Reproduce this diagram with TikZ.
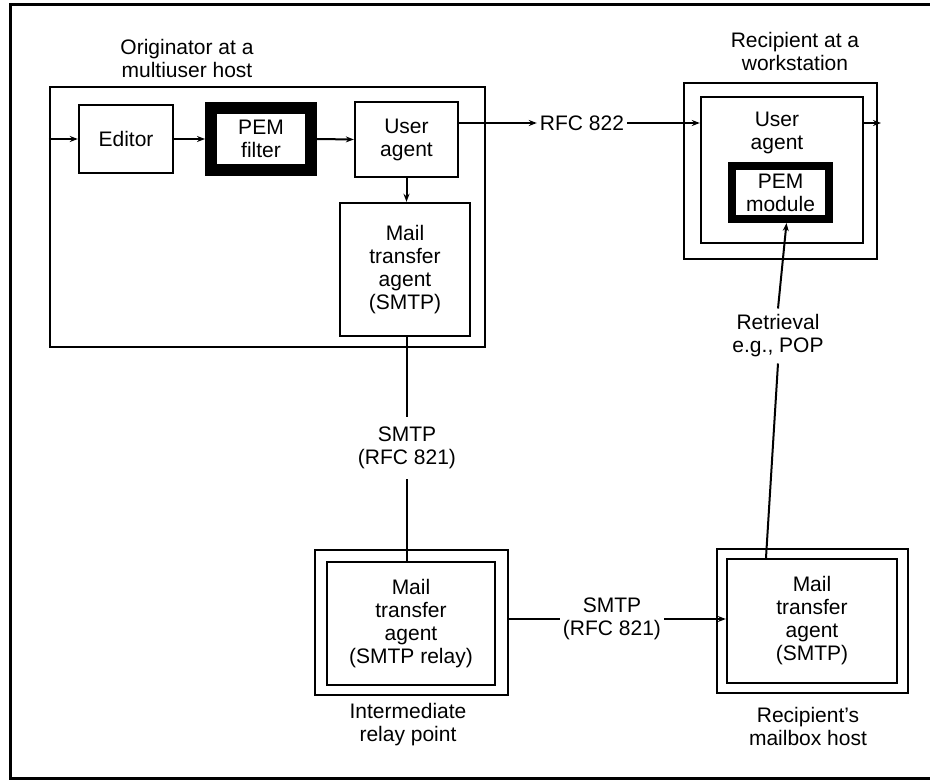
\documentclass[tikz,border=0pt]{standalone}
\usepackage{fontspec}
\setmainfont{Liberation Sans}
\usetikzlibrary{arrows.meta}
\begin{document}
\begin{tikzpicture}[x=1pt,y=-1pt,
  every node/.style={font=\fontsize{21}{23}\selectfont, align=center},
  box/.style={draw, line width=2.4pt, rectangle, inner sep=0pt},
  thickbox/.style={draw, rectangle, inner sep=0pt},
  lbl/.style={inner sep=3pt},
  conn/.style={line width=2pt},
  arr/.style={line width=2pt, -{Stealth[length=8pt,width=6pt]}}]
\useasboundingbox (0,0) rectangle (930,781);
\draw[line width=3pt] (940,5) -- (10,5) -- (10,778) -- (940,778);

% originator
\node[lbl] (t1) at (187,58) {Originator at a\\multiuser host};
\node[box, minimum width=435, minimum height=260] (orig) at (267.5,217) {};
\node[box, minimum width=94, minimum height=68] (ed) at (126,139) {Editor};
\node[thickbox, line width=12pt, minimum width=100, minimum height=62] (pf) at (261,139) {PEM\\filter};
\node[box, minimum width=103, minimum height=75] (ua) at (406.5,139.5) {User\\agent};
\node[box, minimum width=130, minimum height=133] (mta) at (405,269.5) {Mail\\transfer\\agent\\(SMTP)};

% recipient workstation
\node[lbl] (t2) at (795,51) {Recipient at a\\workstation};
\node[box, minimum width=193, minimum height=176] (rout) at (780.5,171) {};
\node[box, minimum width=162, minimum height=146] (rin) at (782,170) {};
\node (rua) at (777,132.5) {User\\agent};
\node[thickbox, line width=8pt, minimum width=97, minimum height=53] (pm) at (780.5,192.5) {PEM\\module};
\coordinate (rexit) at (881,123);

\node[lbl] (rfc) at (582,123) {RFC 822};

\draw[arr] (orig.west |- ed) -- (ed.west);
\draw[arr] (ed.east) -- (pf.west);
\draw[arr] (pf.east) -- (ua.west);
\draw[arr] (ua.south) -- (ua.south |- mta.north);
\draw[arr] (ua.east |- rfc) -- (rfc.west);
\draw[arr] (rfc.east) -- (rin.west |- rfc);
\draw[arr] (rin.east |- rfc) -- (rexit);

% relay
\node[inner sep=10pt] (s1) at (407,448) {SMTP\\(RFC 821)};
\node[box, minimum width=193, minimum height=145] (relout) at (411.5,622.5) {};
\node[box, minimum width=168, minimum height=123] (relin) at (411,623.5) {Mail\\transfer\\agent\\(SMTP relay)};
\node (rellbl) at (408,725) {Intermediate\\relay point};
\draw[conn] (mta.south -| s1) -- (s1.north);
\draw[conn] (s1.south) -- (s1.south |- relin.north);

% mailbox host
\node[lbl] (s2) at (612,619) {SMTP\\(RFC 821)};
\node[box, minimum width=191, minimum height=144] (mbout) at (812.5,621) {};
\node[box, minimum width=170, minimum height=124] (mbin) at (812,621) {Mail\\transfer\\agent\\(SMTP)};
\node (mblbl) at (808,726) {Recipient's\\mailbox host};
\draw[conn] (relout.east |- s2) -- (s2.west);
\draw[arr] (s2.east) -- (mbin.west |- s2);

% retrieval
\node[inner sep=6pt] (ret) at (778,336) {Retrieval\\e.g., POP};
\draw[conn] ([xshift=-46pt]mbin.north) -- (ret.south);
\draw[arr] (ret.north) -- ([xshift=6pt]pm.south);
\end{tikzpicture}
\end{document}
